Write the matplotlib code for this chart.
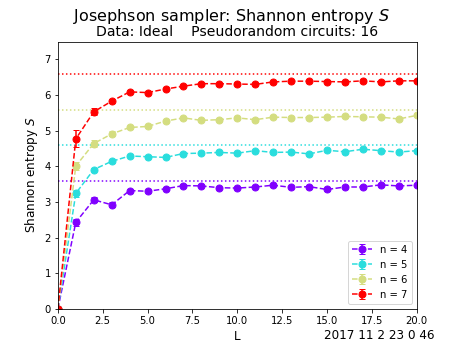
import numpy as np
import matplotlib
matplotlib.use('Agg')
import matplotlib.pyplot as plt

# circuit depth L
L = np.arange(0, 21)

# mean Shannon entropy per n
S4 = [0, 2.43, 3.06, 2.92, 3.32, 3.30, 3.37, 3.46, 3.45, 3.40, 3.39,
      3.42, 3.47, 3.41, 3.43, 3.35, 3.42, 3.42, 3.48, 3.45, 3.47]
S5 = [0, 3.24, 3.91, 4.14, 4.29, 4.27, 4.25, 4.36, 4.37, 4.39, 4.37,
      4.44, 4.39, 4.40, 4.35, 4.45, 4.41, 4.48, 4.44, 4.40, 4.44]
S6 = [0, 4.01, 4.64, 4.91, 5.09, 5.12, 5.27, 5.36, 5.29, 5.31, 5.36,
      5.31, 5.38, 5.37, 5.37, 5.38, 5.40, 5.39, 5.38, 5.33, 5.43]
S7 = [0, 4.77, 5.53, 5.83, 6.09, 6.07, 6.17, 6.25, 6.32, 6.32, 6.31,
      6.30, 6.37, 6.39, 6.39, 6.38, 6.37, 6.40, 6.37, 6.40, 6.40]

# error bars
E4 = [0, 0.10, 0.07, 0.07, 0.04, 0.04, 0.04, 0.04, 0.04, 0.03, 0.03,
      0.03, 0.03, 0.03, 0.03, 0.03, 0.03, 0.03, 0.03, 0.03, 0.03]
E5 = [0, 0.09, 0.05, 0.05, 0.04, 0.03, 0.03, 0.03, 0.03, 0.03, 0.03,
      0.03, 0.03, 0.03, 0.03, 0.03, 0.03, 0.03, 0.03, 0.03, 0.03]
E6 = [0, 0.12, 0.10, 0.07, 0.04, 0.04, 0.03, 0.03, 0.03, 0.03, 0.03,
      0.03, 0.03, 0.03, 0.03, 0.03, 0.03, 0.03, 0.03, 0.03, 0.03]
E7 = [0, 0.24, 0.10, 0.06, 0.04, 0.04, 0.03, 0.03, 0.03, 0.03, 0.03,
      0.03, 0.03, 0.03, 0.03, 0.03, 0.03, 0.03, 0.03, 0.03, 0.03]

# ideal (Porter-Thomas) entropy levels
S_ideal = [3.585, 4.585, 5.585, 6.585]

ns = [4, 5, 6, 7]
data = [S4, S5, S6, S7]
errs = [E4, E5, E6, E7]
colors = plt.cm.rainbow(np.linspace(0, 1, 4))

fig = plt.figure(figsize=(463 / 72, 347 / 72), dpi=72)
ax = fig.add_subplot(111)

for n, s, e, c, h in zip(ns, data, errs, colors, S_ideal):
    ax.errorbar(L, s, yerr=e, fmt='o--', color=c, ms=7, capsize=3, label='n = %d' % n)
    ax.axhline(h, color=c, linestyle=':')

ax.set_xlim(0, 20)
ax.set_ylim(0, 7.5)
ax.set_xlabel('L', fontsize=12)
ax.set_ylabel('Shannon entropy $S$', fontsize=12)
ax.set_title('Data: Ideal    Pseudorandom circuits: 16', fontsize=14)
fig.suptitle('Josephson sampler: Shannon entropy $S$', fontsize=16)
ax.legend(loc='lower right')
fig.text(434 / 463, 0.022, '2017 11 2 23 0 46', fontsize=12, ha='right', va='baseline')

fig.savefig('out.png', dpi=72)
